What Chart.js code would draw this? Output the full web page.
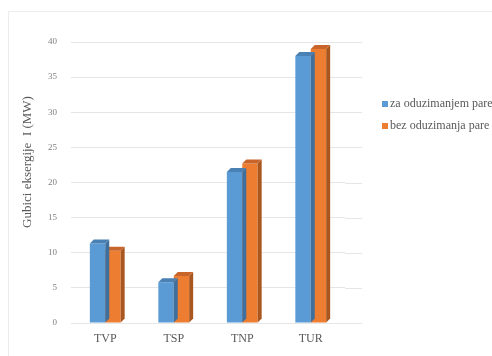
<!DOCTYPE html>
<html>
<head>
<meta charset="utf-8">
<script src="https://cdn.jsdelivr.net/npm/chart.js@4.4.1/dist/chart.umd.min.js"></script>
<style>
  html, body { margin: 0; padding: 0; background: #fff; overflow: hidden; }
  #wrap { width: 492px; height: 356px; position: relative; }
</style>
</head>
<body>
<div id="wrap"><canvas id="c" width="492" height="356"></canvas></div>
<script>
// Exergy losses per turbine section, with and without steam extraction
const categories = ['TVP', 'TSP', 'TNP', 'TUR'];
const seriesLabels = ['za oduzimanjem pare', 'bez oduzimanja pare'];
const withExtraction = [11.3, 5.8, 21.5, 38.0];
const withoutExtraction = [10.3, 6.7, 22.7, 39.0];
const yTicks = [0, 5, 10, 15, 20, 25, 30, 35, 40];
const yTitle = 'Gubici eksergije  I (MW)';

const frontColors = ['#5B9BD5', '#ED7D31'];
const sideColors = ['#3F6F9C', '#A9561F'];
const topColors = ['#4A81B4', '#C7652A'];
const DEPTH = 4;
const WALL_EXTRA = 17;
const serif = '"Liberation Serif", "DejaVu Serif", serif';

// Extruded side and top faces so the bars read as blocks
const blockFaces = {
  id: 'blockFaces',
  afterDatasetDraw(chart, args) {
    const ctx = chart.ctx;
    const i = args.index;
    ctx.save();
    args.meta.data.forEach(bar => {
      const p = bar.getProps(['x', 'y', 'base', 'width'], true);
      const l = p.x - p.width / 2, r = p.x + p.width / 2;
      ctx.fillStyle = sideColors[i];
      ctx.beginPath();
      ctx.moveTo(r, p.y);
      ctx.lineTo(r + DEPTH, p.y - DEPTH);
      ctx.lineTo(r + DEPTH, p.base - DEPTH);
      ctx.lineTo(r, p.base);
      ctx.closePath();
      ctx.fill();
      ctx.fillStyle = topColors[i];
      ctx.beginPath();
      ctx.moveTo(l, p.y);
      ctx.lineTo(l + DEPTH, p.y - DEPTH);
      ctx.lineTo(r + DEPTH, p.y - DEPTH);
      ctx.lineTo(r, p.y);
      ctx.closePath();
      ctx.fill();
    });
    ctx.restore();
  }
};

// Frame, back-wall extension of the gridlines, axis title and legend entries
const decorations = {
  id: 'decorations',
  beforeDraw(chart) {
    const ctx = chart.ctx;
    ctx.save();
    ctx.strokeStyle = '#ececec';
    ctx.lineWidth = 1;
    ctx.beginPath();
    ctx.moveTo(8.5, 356);
    ctx.lineTo(8.5, 11.5);
    ctx.lineTo(492, 11.5);
    ctx.stroke();
    ctx.restore();
  },
  beforeDatasetsDraw(chart) {
    const ctx = chart.ctx;
    const ys = chart.scales.y;
    const right = chart.chartArea.right;
    ctx.save();
    ctx.strokeStyle = '#e6e6e6';
    ctx.lineWidth = 1;
    yTicks.forEach(v => {
      const y = Math.round(ys.getPixelForValue(v)) + 0.5;
      ctx.beginPath();
      ctx.moveTo(right, y);
      ctx.lineTo(right + WALL_EXTRA, y);
      ctx.stroke();
    });
    ctx.restore();
  },
  afterDraw(chart) {
    const ctx = chart.ctx;
    ctx.save();
    ctx.fillStyle = '#595959';
    ctx.font = '13px ' + serif;
    ctx.textAlign = 'center';
    ctx.textBaseline = 'middle';
    ctx.translate(28, 162);
    ctx.rotate(-Math.PI / 2);
    ctx.fillText(yTitle, 0, 0);
    ctx.restore();

    ctx.save();
    ctx.font = '12px ' + serif;
    ctx.textBaseline = 'middle';
    chart.data.datasets.forEach((ds, i) => {
      const y = 104 + i * 22;
      ctx.fillStyle = frontColors[i];
      ctx.fillRect(382, y - 3, 6, 6);
      ctx.fillStyle = '#595959';
      ctx.fillText(ds.label, 390, y);
    });
    ctx.restore();
  }
};

new Chart(document.getElementById('c'), {
  type: 'bar',
  data: {
    labels: categories,
    datasets: [
      { label: seriesLabels[0], data: withExtraction, backgroundColor: frontColors[0] },
      { label: seriesLabels[1], data: withoutExtraction, backgroundColor: frontColors[1] }
    ]
  },
  options: {
    responsive: false,
    animation: false,
    devicePixelRatio: 1,
    layout: { padding: { left: 20, top: 42, right: 147, bottom: 10 } },
    datasets: { bar: { categoryPercentage: 0.45, barPercentage: 1.0 } },
    plugins: {
      legend: { display: false },
      tooltip: { enabled: false }
    },
    scales: {
      x: {
        grid: { display: false, drawTicks: false },
        border: { display: false },
        ticks: { color: '#595959', font: { family: serif, size: 12 }, padding: 9 },
        afterFit(s) { s.height = 23; }
      },
      y: {
        min: 0, max: 40,
        afterBuildTicks(s) { s.ticks = yTicks.map(v => ({ value: v })); },
        grid: { color: '#e6e6e6', drawTicks: false },
        border: { display: false },
        ticks: { color: '#7f7f7f', font: { family: serif, size: 9 }, padding: 14 },
        afterFit(s) { s.width = 51; }
      }
    }
  },
  plugins: [blockFaces, decorations]
});
</script>
</body>
</html>
